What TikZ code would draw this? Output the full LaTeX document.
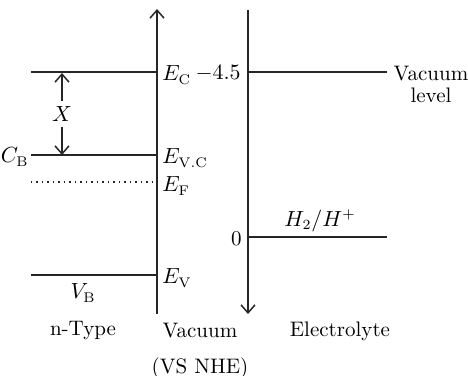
\documentclass[tikz,border=0pt]{standalone}
\usetikzlibrary{arrows.meta}
\begin{document}
\begin{tikzpicture}[x=0.5pt,y=-0.5pt,
  axis/.style={line width=0.75pt,draw=black!85},
  level/.style={line width=0.75pt,draw=black!85},
  tip/.style={-{Straight Barb[length=4pt,width=7pt,line width=0.75pt]}},
  lbl/.style={inner sep=1pt,font=\fontsize{10.5}{12}\selectfont}]
\useasboundingbox (0,0) rectangle (468,376);
% axes
\coordinate (la0) at (157,314);
\coordinate (la1) at (157,9);
\coordinate (ra0) at (248,10);
\coordinate (ra1) at (248,314);
\draw[axis,tip] (la0) -- (la1);
\draw[axis,tip] (ra0) -- (ra1);
% semiconductor levels
\coordinate (ec0) at (31,72);   \coordinate (ec1) at (157,72);
\coordinate (cb0) at (31,155);  \coordinate (cb1) at (157,155);
\coordinate (ef0) at (31,182);  \coordinate (ef1) at (157,182);
\coordinate (ev0) at (31,275);  \coordinate (ev1) at (157,275);
\draw[level] (ec0) -- (ec1);
\draw[level] (cb0) -- (cb1);
\draw[level,dotted] (ef0) -- (ef1);
\draw[level] (ev0) -- (ev1);
% electrolyte levels
\coordinate (vl0) at (248,72);  \coordinate (vl1) at (387,72);
\coordinate (h0) at (248,237);  \coordinate (h1) at (387,237);
\draw[level] (vl0) -- (vl1);
\draw[level] (h0) -- (h1);
% X arrows
\node[lbl] (X) at (62,114) {$X$};
\coordinate (xt) at (62,73);
\coordinate (xb) at (62,155);
\draw[axis,tip] (X.north) ++(0,-3) coordinate (xu) (xu) -- (xt);
\draw[axis,tip] (X.south) ++(0,3) coordinate (xd) (xd) -- (xb);
% labels
\node[lbl,anchor=west] (EC) at (160,75) {$E_{\mathrm{C}}$};
\node[lbl,anchor=west] (EVC) at (160,158) {$E_{\mathrm{V.C}}$};
\node[lbl,anchor=west] (EF) at (160,186) {$E_{\mathrm{F}}$};
\node[lbl,anchor=west] (EV) at (160,278) {$E_{\mathrm{V}}$};
\node[lbl,anchor=east] (CB) at (31,157) {$C_{\mathrm{B}}$};
\node[lbl] (VB) at (83,293) {$V_{\mathrm{B}}$};
\node[lbl,anchor=east] (m45) at (243,73) {$-4.5$};
\node[lbl,anchor=east] (zero) at (244,239) {0};
\node[lbl] (H) at (320,221) {$H_2/H^{+}$};
\node[lbl,align=center] (VL) at (431,84) {Vacuum\\[-1pt]level};
\node[lbl] (nT) at (83,331) {n-Type};
\node[lbl] (Vac) at (200,331) {Vacuum};
\node[lbl] (NHE) at (200,368) {(VS NHE)};
\node[lbl] (El) at (340,331) {Electrolyte};
\end{tikzpicture}
\end{document}
